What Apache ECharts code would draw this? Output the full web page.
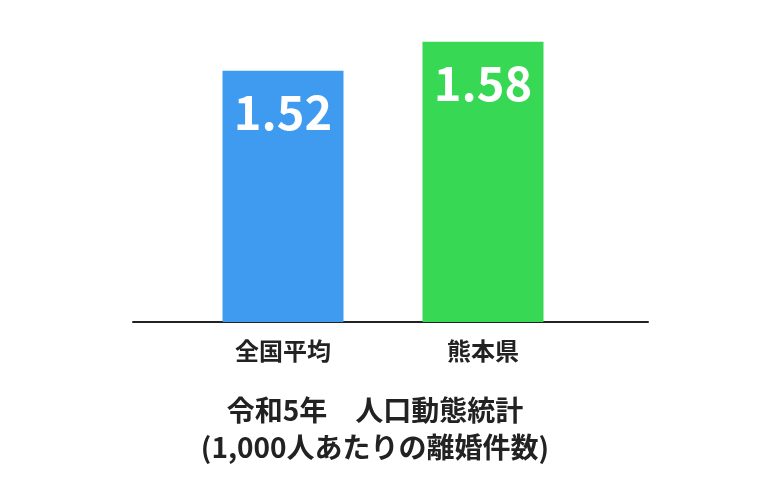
<!DOCTYPE html>
<html>
<head>
<meta charset="utf-8">
<script src="https://cdn.jsdelivr.net/npm/echarts@6/dist/echarts.min.js"></script>
<style>
  html, body { margin: 0; padding: 0; background: #fff; }
  #chart { width: 778px; height: 496px; }
</style>
</head>
<body>
<div id="chart"></div>
<script>
// data
var categories = ['全国平均', '熊本県'];
var values = [1.52, 1.58];
var barColors = ['#3e9bf0', '#37d853'];
var titleText = '令和5年　人口動態統計\n(1,000人あたりの離婚件数)';

var chart = echarts.init(document.getElementById('chart'));
var font = '"Noto Sans CJK JP", "Noto Sans", sans-serif';

var option = {
    backgroundColor: '#fff',
    animation: false,
    textStyle: { fontFamily: font },
    title: {
	text: titleText,
	left: 375,
	top: 392,
	padding: 0,
	textAlign: 'center',
	textStyle: {
	    fontFamily: font,
	    fontSize: 28,
	    fontWeight: 'bold',
	    lineHeight: 37,
	    color: '#222'
	}
    },
    grid: [
	// bars
	{ left: 183, right: 195, top: 32, bottom: 174 },
	// long base line only
	{ left: 133, right: 130, top: 32, bottom: 174 }
    ],
    xAxis: [
	{
	    type: 'category',
	    gridIndex: 0,
	    data: categories,
	    axisLine: { show: false },
	    axisTick: { show: false },
	    axisLabel: {
		margin: 17,
		fontSize: 24,
		fontWeight: 'bold',
		color: '#222',
		fontFamily: font
	    }
	},
	{
	    type: 'category',
	    gridIndex: 1,
	    data: [''],
	    axisLine: { show: true, lineStyle: { color: '#222', width: 2 } },
	    axisTick: { show: false },
	    axisLabel: { show: false }
	}
    ],
    yAxis: [
	{
	    type: 'value',
	    gridIndex: 0,
	    min: 1,
	    max: 1.6,
	    show: false
	},
	{
	    type: 'value',
	    gridIndex: 1,
	    show: false
	}
    ],
    series: [
	{
	    type: 'bar',
	    xAxisIndex: 0,
	    yAxisIndex: 0,
	    barWidth: 121,
	    data: values.map(function (v, i) {
		return { value: v, itemStyle: { color: barColors[i] } };
	    }),
	    label: {
		show: true,
		position: 'insideTop',
		distance: 18,
		formatter: function (p) { return p.value.toFixed(2); },
		fontSize: 47,
		fontWeight: 'bold',
		color: '#fff',
		fontFamily: font
	    }
	}
    ]
};

chart.setOption(option);
</script>
</body>
</html>
